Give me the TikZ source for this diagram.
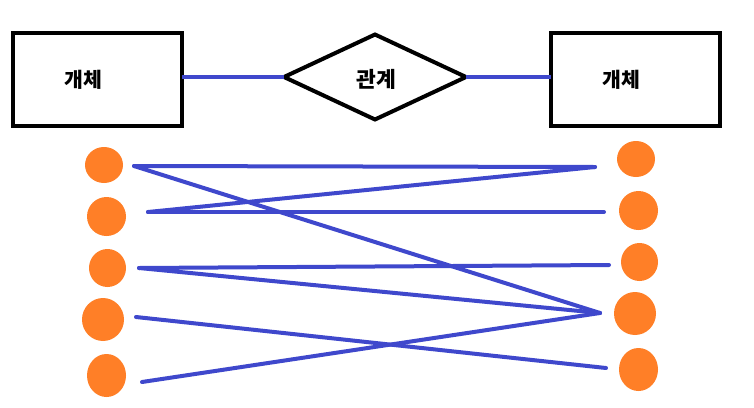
\documentclass[tikz,border=0pt]{standalone}
\usepackage{fontspec}
\newfontfamily\kr{Noto Sans CJK KR}
\usetikzlibrary{shapes.geometric}
\definecolor{lineblue}{HTML}{3F48CC}
\definecolor{dotorange}{HTML}{FF7F27}
\begin{document}
\begin{tikzpicture}[x=1pt,y=-1pt,
 ent/.style={draw=black, line width=4pt, minimum width=169pt, minimum height=93pt, inner sep=0pt, outer sep=0pt},
 relshape/.style={diamond, draw=black, line width=4pt, minimum width=182pt, minimum height=85pt, inner sep=0pt, outer sep=0pt},
 lbl/.style={font=\kr\bfseries\fontsize{20.5}{24}\selectfont, inner sep=0pt},
 biglbl/.style={font=\kr\bfseries\fontsize{21.5}{26}\selectfont, inner sep=0pt},
 dot/.style={ellipse, fill=dotorange, inner sep=0pt},
 link/.style={draw=lineblue, line width=4pt, line cap=round}]
\useasboundingbox (0,0) rectangle (754,407);
% top ER part
\node[ent] (e1) at (97,79.5) {};
\node[ent] (e2) at (635.5,79) {};
\node[relshape] (r) at (375,77) {};
\node[lbl] (t1) at (83,80) {개체};
\node[lbl] (t2) at (621,80) {개체};
\node[biglbl] (t3) at (376,79) {관계};
\draw[link, line cap=butt] (r.west) -- (r.west -| e1.east);
\draw[link, line cap=butt] (r.east) -- (r.east -| e2.west);
% dots
\node[dot, minimum width=38pt, minimum height=36pt] (a1) at (104,165) {};
\node[dot, minimum width=39pt, minimum height=39pt] (a2) at (106.5,216.5) {};
\node[dot, minimum width=37pt, minimum height=38pt] (a3) at (107.5,268) {};
\node[dot, minimum width=42pt, minimum height=43pt] (a4) at (103,319.5) {};
\node[dot, minimum width=39pt, minimum height=43pt] (a5) at (106.5,375.5) {};
\node[dot, minimum width=38pt, minimum height=36pt] (b1) at (636,159) {};
\node[dot, minimum width=39pt, minimum height=39pt] (b2) at (638.5,210.5) {};
\node[dot, minimum width=37pt, minimum height=38pt] (b3) at (639.5,262) {};
\node[dot, minimum width=42pt, minimum height=43pt] (b4) at (635,313.5) {};
\node[dot, minimum width=39pt, minimum height=43pt] (b5) at (638.5,369.5) {};
% line ends
\coordinate (l1) at (134,166);
\coordinate (l2) at (148,212);
\coordinate (l3) at (139,268);
\coordinate (l4) at (136,317);
\coordinate (l5) at (142,382);
\coordinate (m1) at (595,167);
\coordinate (m2) at (604,212);
\coordinate (m3) at (609,265);
\coordinate (m4) at (600,313);
\coordinate (m5) at (606,368);
\draw[link] (l1) -- (m1);
\draw[link] (l1) -- (m4);
\draw[link] (l2) -- (m1);
\draw[link] (l2) -- (m2);
\draw[link] (l3) -- (m3);
\draw[link] (l3) -- (m4);
\draw[link] (l4) -- (m5);
\draw[link] (l5) -- (m4);
\end{tikzpicture}
\end{document}
